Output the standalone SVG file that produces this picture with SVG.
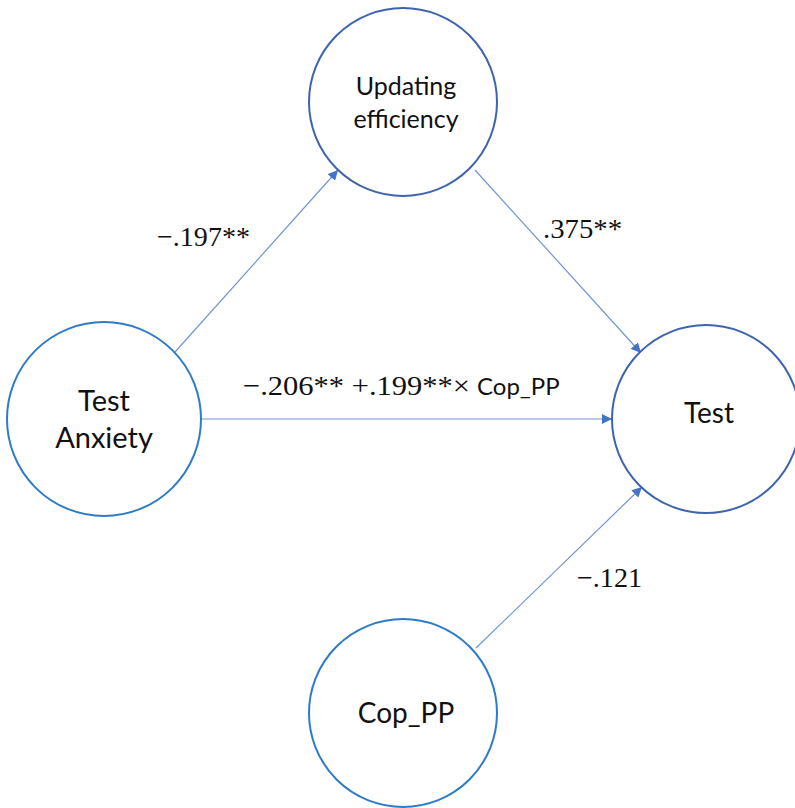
<svg xmlns="http://www.w3.org/2000/svg" width="795" height="808" viewBox="0 0 795 808">
<style>
.node{fill:#fff;stroke-width:2}
.dark{stroke:#3F64AE}
.light{stroke:#2E7BC8}
.lbl{font-family:Lato,"Open Sans",sans-serif;fill:#111;text-anchor:middle}
.num{font-family:"Liberation Serif","DejaVu Serif",serif;font-size:28px;fill:#111}
.sans{font-family:Lato,"Open Sans",sans-serif;font-size:24px;fill:#111}
.edge{stroke:#6F94D4;stroke-width:1.2;fill:none}
</style>
<defs>
<marker id="ah" viewBox="0 0 10 10" refX="10" refY="5" markerWidth="10" markerHeight="10" markerUnits="userSpaceOnUse" orient="auto">
<path d="M0,0 L10,5 L0,10 Z" fill="#4472C4"/>
</marker>
</defs>
<rect width="795" height="808" fill="#fff"/>
<g id="connectors">
<line class="edge" x1="175" y1="352" x2="338" y2="170" marker-end="url(#ah)"/>
<line class="edge" x1="475" y1="170" x2="641" y2="353" marker-end="url(#ah)"/>
<line class="edge" x1="201" y1="419" x2="612" y2="419" marker-end="url(#ah)"/>
<line class="edge" x1="476" y1="648" x2="642" y2="487" marker-end="url(#ah)"/>
</g>
<g id="updating">
<circle class="node dark" cx="403" cy="102" r="94"/>
<text class="lbl" x="406" y="95" font-size="25">Updating</text>
<text class="lbl" x="406" y="128" font-size="25">efficiency</text>
</g>
<g id="anxiety">
<circle class="node light" cx="104" cy="419" r="97"/>
<text class="lbl" x="104" y="411" font-size="29">Test</text>
<text class="lbl" x="104" y="448" font-size="29">Anxiety</text>
</g>
<g id="test">
<circle class="node dark" cx="706" cy="419" r="94"/>
<text class="lbl" x="709" y="423" font-size="28">Test</text>
</g>
<g id="cop">
<circle class="node light" cx="403" cy="713" r="94"/>
<text class="lbl" x="406" y="723" font-size="28">Cop_PP</text>
</g>
<g id="labels">
<text class="num" x="157" y="246" textLength="93" lengthAdjust="spacingAndGlyphs">−.197**</text>
<text class="num" x="543" y="238" textLength="79" lengthAdjust="spacingAndGlyphs">.375**</text>
<text class="num" x="243" y="395" textLength="227" lengthAdjust="spacingAndGlyphs">−.206** +.199**×</text>
<text class="sans" x="477" y="395">Cop_PP</text>
<text class="num" x="577" y="587" textLength="65" lengthAdjust="spacingAndGlyphs">−.121</text>
</g>
</svg>
